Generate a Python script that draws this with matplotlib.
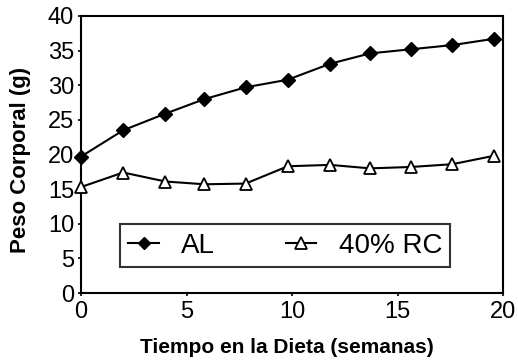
import matplotlib
matplotlib.use("Agg")
import matplotlib.pyplot as plt

plt.rcParams['font.family'] = ['Liberation Sans', 'DejaVu Sans']

weeks_al = [0, 2.0, 4.0, 5.85, 7.8, 9.8, 11.8, 13.7, 15.65, 17.6, 19.55]
al = [19.7, 23.5, 25.9, 28.0, 29.7, 30.8, 33.1, 34.6, 35.2, 35.8, 36.7]
weeks_rc = [0, 2.0, 4.0, 5.85, 7.8, 9.8, 11.8, 13.7, 15.65, 17.6, 19.55]
rc = [15.3, 17.4, 16.1, 15.7, 15.8, 18.3, 18.5, 18.0, 18.2, 18.6, 19.8]
xticks = [0, 5, 10, 15, 20]
yticks = [0, 5, 10, 15, 20, 25, 30, 35, 40]

fig = plt.figure(figsize=(5.18, 3.62), dpi=100)
ax = fig.add_axes([81/518, 1-293/362, 422/518, 277/362])

ax.plot(weeks_al, al, color='black', lw=1.5, marker='D', ms=7,
        mfc='black', mec='black', label='AL', clip_on=False, zorder=3)
ax.plot(weeks_rc, rc, color='black', lw=1.5, marker='^', ms=9,
        mfc='white', mec='black', mew=1.3, label='40% RC', clip_on=False, zorder=3)

ax.set_xlim(0, 20)
ax.set_ylim(0, 40)
ax.set_xticks(xticks)
ax.set_yticks(yticks)
ax.tick_params(labelsize=17, length=2.5, width=1.2, direction='out', pad=3)
ax.tick_params(axis='y', pad=2.5)
for s in ax.spines.values():
    s.set_linewidth(1.5)

ax.set_xlabel('Tiempo en la Dieta (semanas)', fontsize=15, fontweight='bold')
ax.xaxis.set_label_coords(0.488, -0.162)
ax.set_ylabel('Peso Corporal (g)', fontsize=16, fontweight='bold')
ax.yaxis.set_label_coords(-0.118, 0.48)

leg = ax.legend(loc='lower left', bbox_to_anchor=(39/422, 26/277),
                borderaxespad=0, ncol=2, fontsize=20, frameon=True, fancybox=False,
                edgecolor='black', borderpad=0.3, handlelength=1.1,
                columnspacing=2.55, handletextpad=0.8, markerscale=0.9)
leg.get_frame().set_linewidth(1.5)

fig.savefig('out.png', dpi=100)
